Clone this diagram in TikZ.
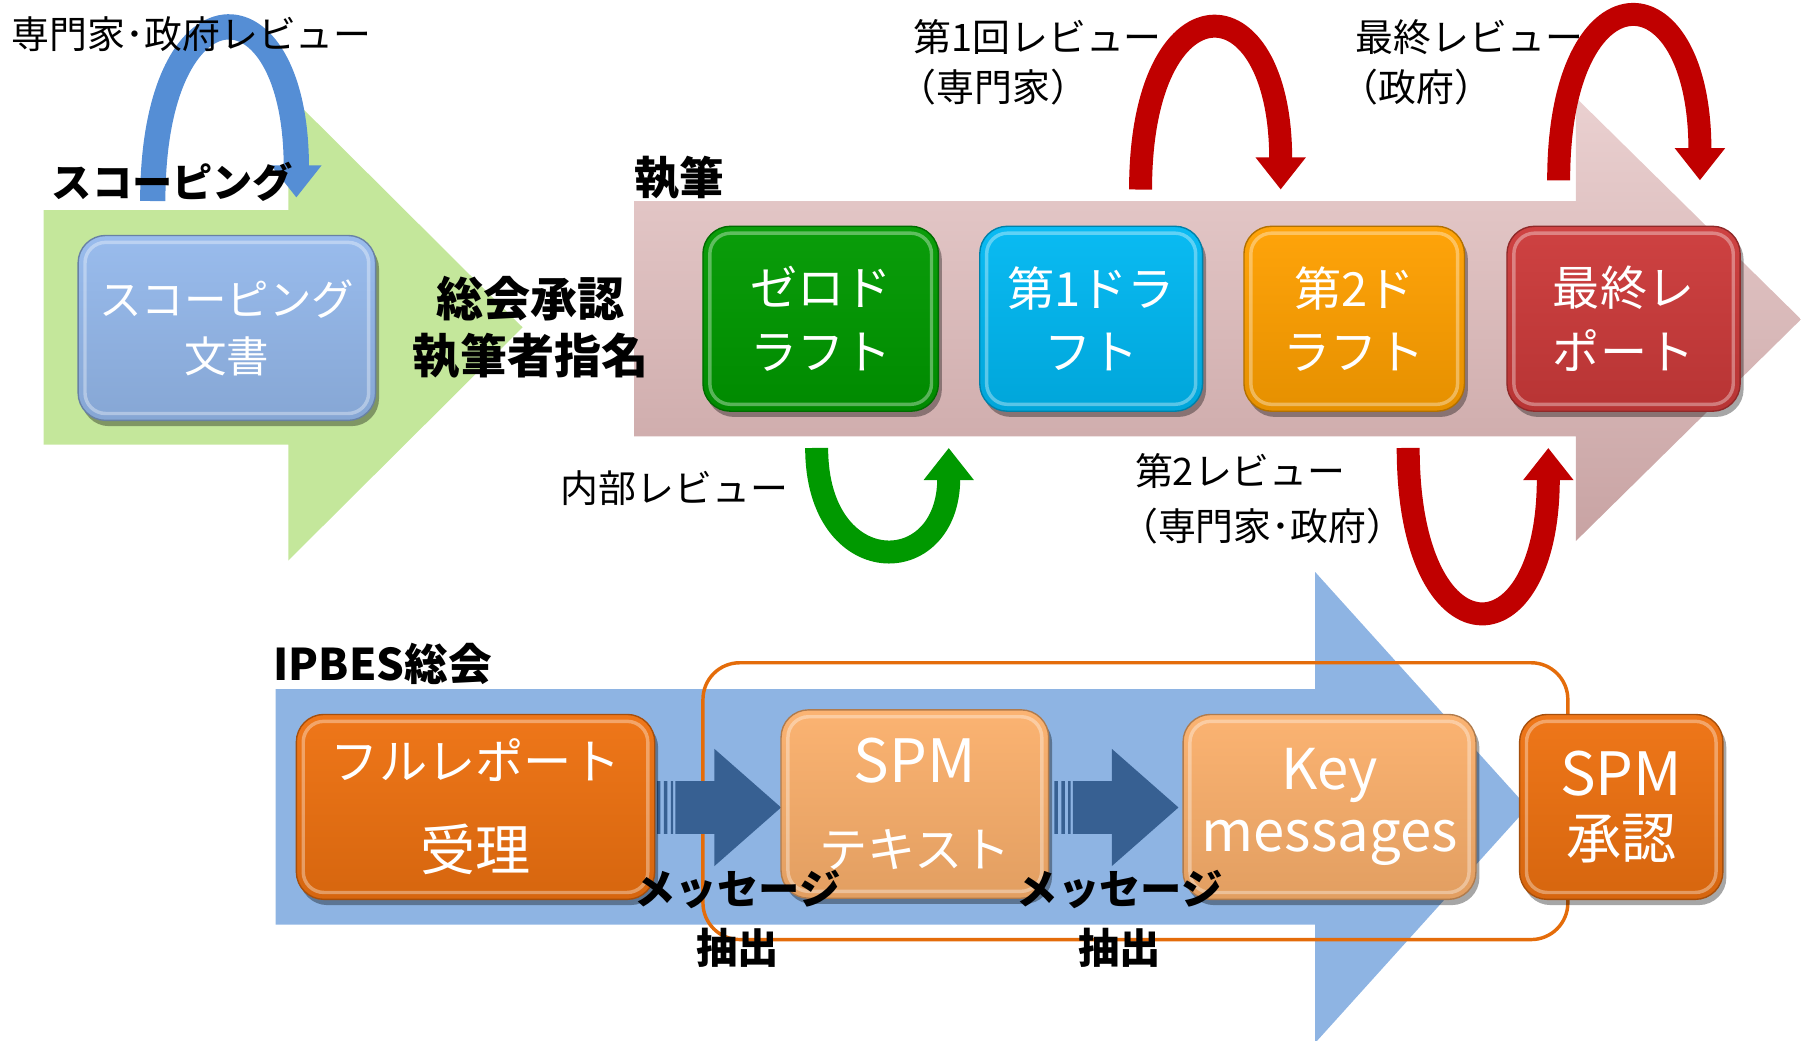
\documentclass[tikz,border=0pt]{standalone}
\usepackage{fontspec}
\setmainfont{Noto Sans CJK JP}
\usetikzlibrary{arrows.meta,shadows}
\definecolor{grArrow}{HTML}{C4E79B}
\definecolor{pinkTop}{HTML}{EAD0D0}
\definecolor{pinkBot}{HTML}{C8A3A3}
\definecolor{blArrow}{HTML}{8EB4E3}
\definecolor{archBlue}{HTML}{558ED5}
\definecolor{archRed}{HTML}{C00000}
\definecolor{archGreen}{HTML}{009900}
\definecolor{dkBlue}{HTML}{376092}
\definecolor{outOrange}{HTML}{E46C0A}
\definecolor{cScope}{HTML}{95B9EC}
\definecolor{cZero}{HTML}{009900}
\definecolor{cDone}{HTML}{00B8F2}
\definecolor{cDtwo}{HTML}{FFA000}
\definecolor{cFin}{HTML}{CC3A3A}
\definecolor{cDkOr}{HTML}{EE7110}
\definecolor{cLtOr}{HTML}{FBB06C}
\tikzset{
  glossy/.style={rounded corners=24pt, draw=#1!70!black, line width=1.2pt,
    top color=#1!96!white, bottom color=#1!90!black,
    minimum height=161pt, text=white, align=center, inner sep=0pt,
    drop shadow={shadow xshift=3pt, shadow yshift=-5pt, opacity=0.35, fill=black},
    path picture={\draw[white, opacity=0.35, line width=3pt, rounded corners=18pt]
      ([xshift=6pt,yshift=-6pt]path picture bounding box.north west) rectangle
      ([xshift=-6pt,yshift=6pt]path picture bounding box.south east);}},
  lab/.style={inner sep=0pt, font=\fontsize{33}{44}\selectfont, anchor=west},
  blab/.style={inner sep=0pt, font=\bfseries\fontsize{36}{51}\selectfont, align=center},
  arch/.style={line width=20pt, draw=#1, -{Triangle[width=42pt,length=28pt]}},
  blockarr/.pic={
    \fill[dkBlue] (16,-23) -- (50,-23) -- (50,-51) -- (108,0) -- (50,51) -- (50,23) -- (16,23) -- cycle;
    \fill[dkBlue] (0,-23) rectangle (3,23) (6,-23) rectangle (9,23) (12,-23) rectangle (14,23);
  }
}
\begin{document}
\begin{tikzpicture}[x=1pt,y=-1pt]
\useasboundingbox (0,0) rectangle (1568,906);
% big process arrows
\fill[grArrow] (38,183) -- (251,183) -- (251,82) -- (455,285) -- (251,488) -- (251,387) -- (38,387) -- cycle;
\shade[top color=pinkTop, bottom color=pinkBot] (552,175) -- (1372,175) -- (1372,85) -- (1568,278) -- (1372,471) -- (1372,380) -- (552,380) -- cycle;
\fill[blArrow] (240,600) -- (1145,600) -- (1145,498) -- (1330,703) -- (1145,908) -- (1145,805) -- (240,805) -- cycle;

% orange outline
\draw[outOrange, line width=3pt, rounded corners=32pt] (612,577) rectangle (1365,818);

% block arrows
\pic at (572,703) {blockarr};
\pic at (918,703) {blockarr};

% boxes
\node[glossy=cScope, minimum width=259pt, font=\fontsize{37}{50}\selectfont] (scope) at (197.5,285.5) {スコーピング\\文書};
\node[glossy=cZero, minimum width=205pt, font=\fontsize{41}{55}\selectfont] (zero) at (714.5,277.5) {ゼロド\\ラフト};
\node[glossy=cDone, minimum width=194pt, font=\fontsize{41}{55}\selectfont] (done) at (950,277.5) {第1ドラ\\フト};
\node[glossy=cDtwo, minimum width=192pt, font=\fontsize{41}{55}\selectfont] (dtwo) at (1179,277.5) {第2ド\\ラフト};
\node[glossy=cFin, minimum width=203pt, font=\fontsize{41}{55}\selectfont] (fin) at (1413.5,277.5) {最終レ\\ポート};
\node[glossy=cDkOr, minimum width=312pt, font=\fontsize{42}{79}\selectfont] (full) at (414,702.5) {フルレポート\\{\fontsize{48}{60}\selectfont 受理}};
\node[glossy=cLtOr, minimum width=233pt, minimum height=164pt, font=\fontsize{42}{74}\selectfont] (spmt) at (796.5,700) {{\fontsize{52}{60}\selectfont SPM}\\テキスト};
\node[glossy=cLtOr, minimum width=255pt, font=\fontsize{49}{54}\selectfont] (key) at (1157.5,702.5) {Key\\messages};
\node[glossy=cDkOr, minimum width=177pt, font=\fontsize{48}{55}\selectfont] (spma) at (1411.5,702.5) {{\fontsize{52}{60}\selectfont SPM}\\承認};

% review loops
\coordinate (bA) at (133,175); \coordinate (bB) at (258,172);
\draw[arch=archBlue, line width=22pt] (bA) .. controls +(0,-197) and +(0,-194) .. (bB);
\coordinate (rA) at (993,165); \coordinate (rB) at (1115,165);
\draw[arch=archRed] (rA) .. controls +(0,-185) and +(0,-185) .. (rB);
\coordinate (sA) at (1357,157); \coordinate (sB) at (1480,157);
\draw[arch=archRed] (sA) .. controls +(0,-188) and +(0,-188) .. (sB);
\coordinate (gA) at (711,390); \coordinate (gB) at (826,390);
\draw[arch=archGreen] (gA) .. controls +(0,116) and +(0,116) .. (gB);
\coordinate (uA) at (1226,390); \coordinate (uB) at (1348,390);
\draw[arch=archRed] (uA) .. controls +(0,188) and +(0,188) .. (uB);

% labels
\node[lab] (lScRev) at (10,30) {専門家･政府レビュー};
\node[blab, anchor=west, font=\bfseries\fontsize{35}{40}\selectfont] (lScoping) at (45,158) {スコーピング};
\node[blab, font=\bfseries\fontsize{41}{50}\selectfont] (lApprove) at (462,285) {総会承認\\執筆者指名};
\node[blab, anchor=west, font=\bfseries\fontsize{39}{44}\selectfont] (lWrite) at (552,155) {執筆};
\node[lab] (lRevOneA) at (795,32) {第1回レビュー};
\node[lab] (lRevOneB) at (782,76) {（専門家）};
\node[lab] (lRevFinA) at (1180,32) {最終レビュー};
\node[lab] (lRevFinB) at (1167,76) {（政府）};
\node[lab] (lRevInt) at (488,425) {内部レビュー};
\node[lab] (lRevTwoA) at (988,410) {第2レビュー};
\node[lab] (lRevTwoB) at (975,458) {（専門家･政府）};
\node[blab, anchor=west, font=\bfseries\fontsize{38}{40}\selectfont] (lIpbes) at (238,578) {IPBES総会};
\node[blab] (lMsgA) at (642,800) {メッセージ\\抽出};
\node[blab] (lMsgB) at (975,800) {メッセージ\\抽出};
\end{tikzpicture}
\end{document}
